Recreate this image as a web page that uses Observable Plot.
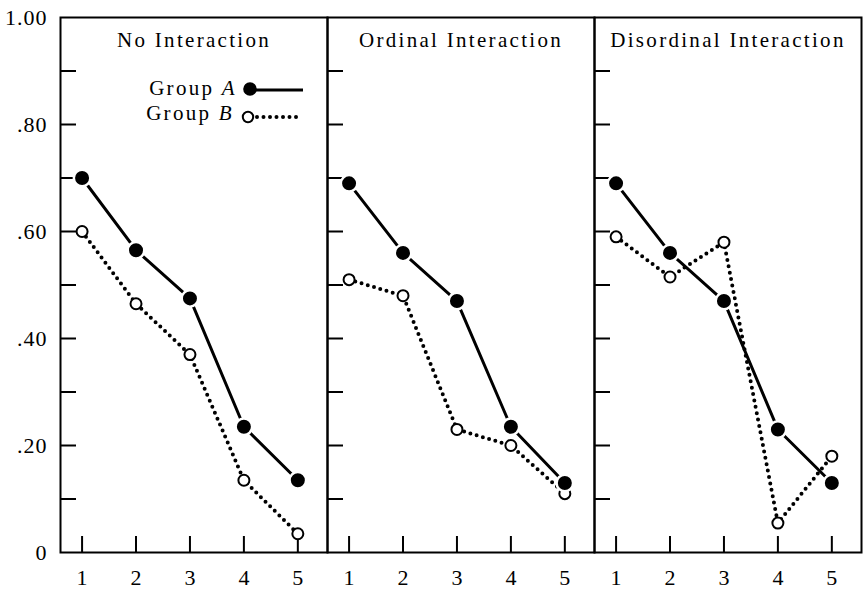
<!DOCTYPE html>
<html><head><meta charset="utf-8">
<script src="https://cdn.jsdelivr.net/npm/d3@7"></script>
<script src="https://cdn.jsdelivr.net/npm/@observablehq/plot@0.6"></script>
<style>
body{margin:0;background:#fff;}
#wrap{position:relative;width:865px;height:589px;background:#fff;}
#legend{position:absolute;left:0;top:0;pointer-events:none;}
</style></head><body><div id="wrap"></div>
<script>
// ---- data ----
const panels = ["No Interaction", "Ordinal Interaction", "Disordinal Interaction"];
const levels = [1, 2, 3, 4, 5];
const groupANo  = [0.70, 0.565, 0.475, 0.235, 0.135];
const groupBNo  = [0.60, 0.465, 0.37, 0.135, 0.035];
const groupAOrd = [0.69, 0.56, 0.47, 0.235, 0.13];
const groupBOrd = [0.51, 0.48, 0.23, 0.20, 0.11];
const groupADis = [0.69, 0.56, 0.47, 0.23, 0.13];
const groupBDis = [0.59, 0.515, 0.58, 0.055, 0.18];
const yLabelTicks = [0, 0.2, 0.4, 0.6, 0.8, 1.0];
const yMinorTicks = [0.1, 0.2, 0.3, 0.4, 0.5, 0.6, 0.7, 0.8, 0.9];
const legendLabels = ["Group ", "A", "Group ", "B"];

const seriesA = [groupANo, groupAOrd, groupADis];
const seriesB = [groupBNo, groupBOrd, groupBDis];
const rowsA = [], rowsB = [];
panels.forEach((p, i) => levels.forEach((lv, j) => {
  rowsA.push({panel: p, level: lv, value: seriesA[i][j]});
  rowsB.push({panel: p, level: lv, value: seriesB[i][j]});
}));

const fmt = d => d === 0 ? "0" : d === 1 ? "1.00" : d3.format(".2f")(d).replace(/^0/, "");
const FONT = "'Liberation Serif', 'Times New Roman', serif";

const chart = Plot.plot({
  width: 865, height: 589,
  marginLeft: 59, marginRight: 3, marginTop: 17, marginBottom: 37,
  style: {fontFamily: FONT, fontSize: "22px", color: "black", background: "white"},
  fx: {domain: panels, padding: 0, axis: null},
  x: {domain: [0.6, 5.55]},
  y: {domain: [0, 1]},
  marks: [
    Plot.axisY({ticks: yMinorTicks, tickSize: 16, insetLeft: 16, tickFormat: () => "", facetAnchor: null, strokeWidth: 2, label: null}),
    Plot.axisY({ticks: yLabelTicks, tickSize: 0, tickPadding: 13, tickFormat: fmt, label: null, fontSize: 22}),
    Plot.axisX({ticks: levels, tickSize: 16, insetBottom: 16, tickFormat: () => "", strokeWidth: 2, label: null}),
    Plot.axisX({ticks: levels, tickSize: 0, tickPadding: 17, tickFormat: d => String(d), label: null, fontSize: 22}),
    Plot.frame({stroke: "black", strokeWidth: 2}),
    Plot.line(rowsB, {fx: "panel", x: "level", y: "value", stroke: "black", strokeWidth: 4, strokeDasharray: "0,6.5", strokeLinecap: "round"}),
    Plot.line(rowsA, {fx: "panel", x: "level", y: "value", stroke: "black", strokeWidth: 3}),
    Plot.dot(rowsB, {fx: "panel", x: "level", y: "value", r: 5.5, fill: "white", stroke: "black", strokeWidth: 2}),
    Plot.dot(rowsA, {fx: "panel", x: "level", y: "value", r: 8.25, fill: "black", stroke: "white", strokeWidth: 2.5}),
    Plot.text(panels, {fx: d => d, text: d => d, frameAnchor: "top", lineAnchor: "top", dy: 15, fontSize: 21})
  ]
});
d3.select(chart).selectAll('g[aria-label="text"] text').style("letter-spacing", "2.3px");
d3.select(chart).selectAll('g[aria-label="y-axis tick label"] text').style("letter-spacing", "1px");
document.getElementById("wrap").appendChild(chart);

// legend (inside first panel)
const lg = d3.select("#wrap").append("svg").attr("id", "legend").attr("width", 865).attr("height", 589)
  .style("font-family", FONT).style("font-size", "21px").style("letter-spacing", "2.3px");
const tA = lg.append("text").attr("x", 237).attr("y", 95).attr("text-anchor", "end");
tA.append("tspan").text(legendLabels[0]);
tA.append("tspan").attr("font-style", "italic").text(legendLabels[1]);
const tB = lg.append("text").attr("x", 234).attr("y", 120).attr("text-anchor", "end");
tB.append("tspan").text(legendLabels[2]);
tB.append("tspan").attr("font-style", "italic").text(legendLabels[3]);
lg.append("line").attr("x1", 255).attr("x2", 303).attr("y1", 90).attr("y2", 90).attr("stroke", "black").attr("stroke-width", 3);
lg.append("circle").attr("cx", 250).attr("cy", 89).attr("r", 6.8).attr("fill", "black");
lg.append("line").attr("x1", 257).attr("x2", 301).attr("y1", 117).attr("y2", 117).attr("stroke", "black").attr("stroke-width", 4).attr("stroke-dasharray", "0,6.5").attr("stroke-linecap", "round");
lg.append("circle").attr("cx", 248).attr("cy", 117).attr("r", 5.2).attr("fill", "white").attr("stroke", "black").attr("stroke-width", 2);
</script></body></html>
